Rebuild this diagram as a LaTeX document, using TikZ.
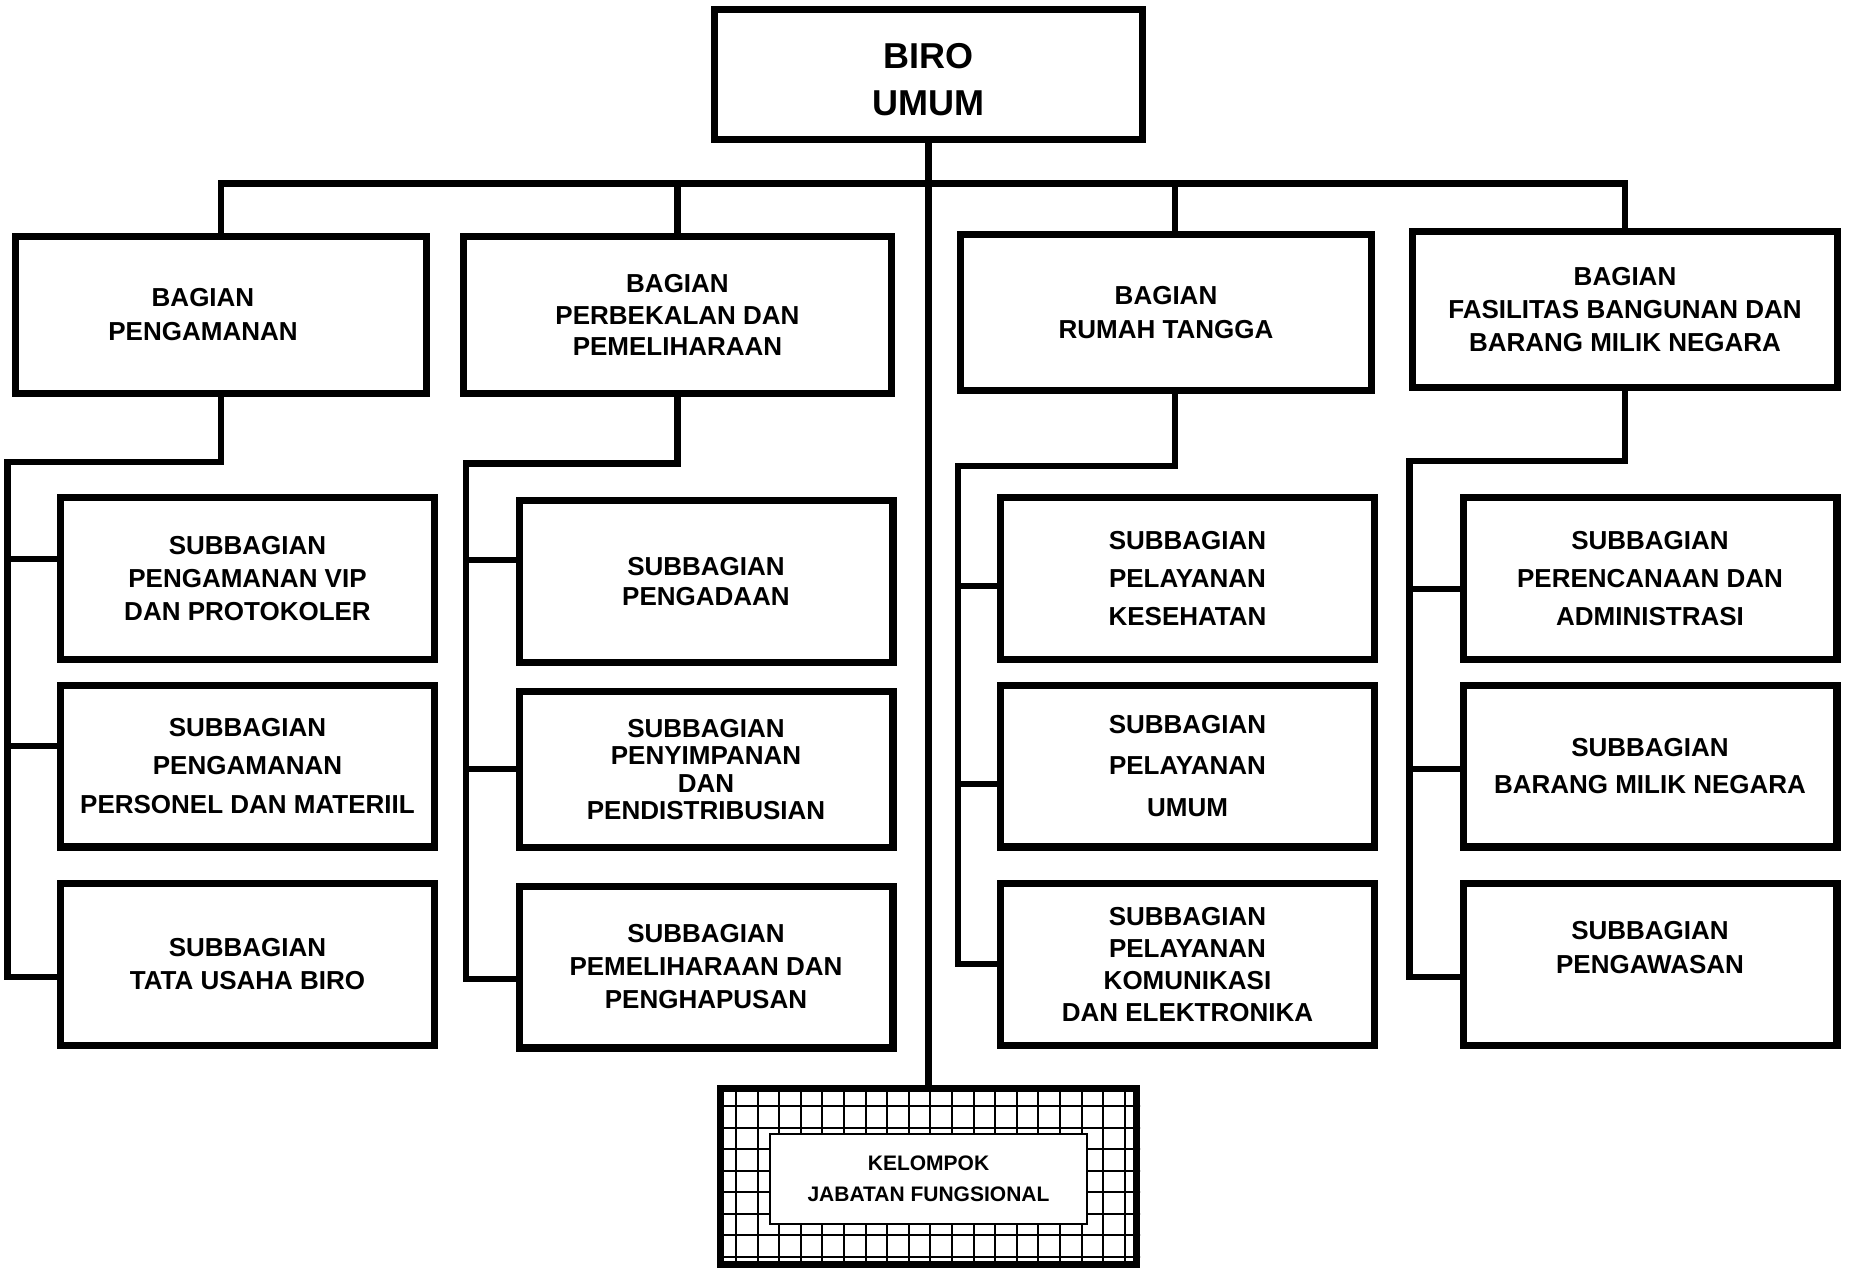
\documentclass[tikz,border=0pt]{standalone}
\usepackage{fontspec}
\setmainfont{Liberation Sans}

\begin{document}
\begin{tikzpicture}[x=0.5pt,y=-0.5pt,line width=3.3pt,
	unit/.style={rectangle,draw,line width=3.7pt,align=center,inner sep=0pt},
	leading/.style={font=\bfseries\fontsize{13}{#1}\selectfont},
	bagian/.style={unit,leading=16.5,minimum height=78.3pt},
	subbagian/.style={unit,leading=16.5,minimum width=186.8pt,minimum height=80.8pt}]
	\useasboundingbox (0,0) rectangle (1854,1268);
	% head
	\node (biro) at (928.5,74.5) [unit,minimum width=213.8pt,minimum height=64.8pt,font=\bfseries\fontsize{18}{23.5}\selectfont] {\rule{0pt}{18pt}BIRO\\UMUM};
	% bagian
	\node (bag1) at (221,315) [bagian,minimum width=205.3pt,leading=17] {BAGIAN\hspace*{18pt}\\PENGAMANAN\hspace*{18pt}};
	\node (bag2) at (677.5,315) [bagian,minimum width=213.8pt,leading=15.7] {BAGIAN\\PERBEKALAN DAN\\PEMELIHARAAN};
	\node (bag3) at (1166,312.5) [bagian,minimum width=205.3pt,minimum height=77.8pt,leading=17] {BAGIAN\\RUMAH TANGGA};
	\node (bag4) at (1625,309.5) [bagian,minimum width=212.3pt,minimum height=77.8pt] {BAGIAN\\FASILITAS BANGUNAN DAN\\BARANG MILIK NEGARA};
	% subbagian
	\node (sub11) at (247.5,578.5) [subbagian,leading=16.3] {SUBBAGIAN\\PENGAMANAN VIP\\DAN PROTOKOLER};
	\node (sub12) at (247.5,766) [subbagian,leading=19.2] {SUBBAGIAN\\PENGAMANAN\\PERSONEL DAN MATERIIL};
	\node (sub13) at (247.5,964.5) [subbagian] {SUBBAGIAN\\TATA USAHA BIRO};
	\node (sub21) at (706,581.5) [subbagian,leading=15.4] {SUBBAGIAN\\PENGADAAN};
	\node (sub22) at (706,769.5) [subbagian,leading=13.6,minimum height=77.8pt] {SUBBAGIAN\\PENYIMPANAN\\DAN\\PENDISTRIBUSIAN};
	\node (sub23) at (706,967) [subbagian] {SUBBAGIAN\\PEMELIHARAAN DAN\\PENGHAPUSAN};
	\node (sub31) at (1187.5,578.5) [subbagian,leading=19.2] {SUBBAGIAN\\PELAYANAN\\KESEHATAN};
	\node (sub32) at (1187.5,766) [subbagian,leading=20.7] {SUBBAGIAN\\PELAYANAN\\UMUM};
	\node (sub33) at (1187.5,964.5) [subbagian,leading=16.1] {SUBBAGIAN\\PELAYANAN\\KOMUNIKASI\\DAN ELEKTRONIKA};
	\node (sub41) at (1650,578.5) [subbagian,leading=18.9] {SUBBAGIAN\\PERENCANAAN DAN\\ADMINISTRASI};
	\node (sub42) at (1650,766) [subbagian,leading=18.9] {SUBBAGIAN\\BARANG MILIK NEGARA};
	\node (sub43) at (1650,964.5) [subbagian,leading=17] {SUBBAGIAN\\PENGAWASAN\\\mbox{}};
	% kelompok jabatan fungsional
	\node (kjf) at (928.5,1176.5) [rectangle,draw,line width=3.5pt,minimum width=208pt,minimum height=88pt] {};
	\begin{scope}
		\clip (kjf.south west) rectangle (kjf.north east);
		\foreach \gx in {0,...,18}
			\draw [line width=1pt] (736+21.6*\gx,1080) -- (736+21.6*\gx,1270);
		\foreach \gy in {0,...,7}
			\draw [line width=1pt] (710,1106+21.5*\gy) -- (1150,1106+21.5*\gy);
	\end{scope}
	\node (jf) at (928.5,1179) [rectangle,draw,fill=white,line width=1pt,minimum width=158.5pt,minimum height=45pt,align=center,font=\bfseries\fontsize{10.5}{15.5}\selectfont] {KELOMPOK\\JABATAN FUNGSIONAL};
	% top lines
	\coordinate (bar) at (928.5,183.5);
	\coordinate (bag3top) at ([xshift=4.5pt]bag3.north);
	\coordinate (bag3bot) at ([xshift=4.5pt]bag3.south);
	\draw (biro.south) -- (kjf.north);
	\draw (bag1.north) |- (bar) -| (bag4.north);
	\draw (bag2.north) -- (bag2.north |- bar);
	\draw (bag3top) -- (bag3top |- bar);
	% column 1
	\coordinate (e1) at (7.5,462);
	\coordinate (b11) at (7.5,559);
	\coordinate (b12) at (7.5,746);
	\coordinate (b13) at (7.5,977);
	\draw (bag1.south) |- (e1) -- (b13) -- (b13 -| sub13.west);
	\draw (b11) -- (b11 -| sub11.west);
	\draw (b12) -- (b12 -| sub12.west);
	% column 2
	\coordinate (e2) at (466,463.5);
	\coordinate (b21) at (466,560);
	\coordinate (b22) at (466,769);
	\coordinate (b23) at (466,979);
	\draw (bag2.south) |- (e2) -- (b23) -- (b23 -| sub23.west);
	\draw (b21) -- (b21 -| sub21.west);
	\draw (b22) -- (b22 -| sub22.west);
	% column 3
	\coordinate (e3) at (958,466);
	\coordinate (b31) at (958,586);
	\coordinate (b32) at (958,784);
	\coordinate (b33) at (958,964);
	\draw (bag3bot) |- (e3) -- (b33) -- (b33 -| sub33.west);
	\draw (b31) -- (b31 -| sub31.west);
	\draw (b32) -- (b32 -| sub32.west);
	% column 4
	\coordinate (e4) at (1409.5,461);
	\coordinate (b41) at (1409.5,589);
	\coordinate (b42) at (1409.5,769);
	\coordinate (b43) at (1409.5,977);
	\draw (bag4.south) |- (e4) -- (b43) -- (b43 -| sub43.west);
	\draw (b41) -- (b41 -| sub41.west);
	\draw (b42) -- (b42 -| sub42.west);
\end{tikzpicture}
\end{document}
